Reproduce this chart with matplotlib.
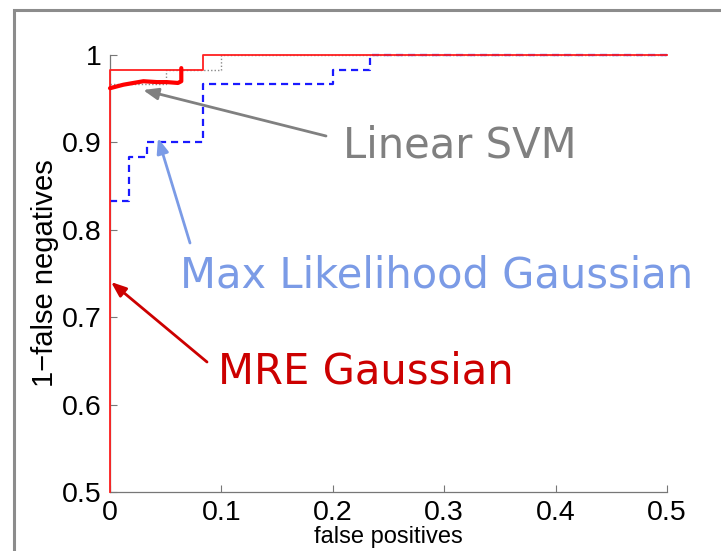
import matplotlib
matplotlib.use("Agg")
import matplotlib.pyplot as plt
from matplotlib.lines import Line2D

# ROC curves (false positive rate vs. 1 - false negative rate)
mre_fp = [0, 0, 0.0833, 0.0833, 0.5]
mre_tp = [0.5, 0.9833, 0.9833, 1.0, 1.0]

ml_fp = [0, 0.0167, 0.0167, 0.0333, 0.0333, 0.0833, 0.0833, 0.2, 0.2, 0.2333, 0.2333, 0.5]
ml_tp = [0.8333, 0.8333, 0.8833, 0.8833, 0.9, 0.9, 0.9667, 0.9667, 0.9833, 0.9833, 1.0, 1.0]

svm_fp = [0, 0.05, 0.05, 0.1, 0.1, 0.5]
svm_tp = [0.9667, 0.9667, 0.9833, 0.9833, 1.0, 1.0]

# hand-drawn highlight of the MRE curve near the origin
mark_fp = [0, 0.012, 0.03, 0.042, 0.051, 0.061, 0.064, 0.064]
mark_tp = [0.962, 0.966, 0.970, 0.969, 0.969, 0.968, 0.970, 0.985]

x_ticks = [0, 0.1, 0.2, 0.3, 0.4, 0.5]
x_tick_labels = ["0", "0.1", "0.2", "0.3", "0.4", "0.5"]
y_ticks = [0.5, 0.6, 0.7, 0.8, 0.9, 1.0]
y_tick_labels = ["0.5", "0.6", "0.7", "0.8", "0.9", "1"]

W, H = 721, 551
fig = plt.figure(figsize=(W / 100, H / 100), dpi=100)
fig.patch.set_facecolor("white")

ax_left, ax_right, ax_top, ax_bottom = 110, 667, 55, 492
ax = fig.add_axes([ax_left / W, 1 - ax_bottom / H,
                   (ax_right - ax_left) / W, (ax_bottom - ax_top) / H])

ax.plot(svm_fp, svm_tp, color="#8a8a8a", lw=1.0, ls=(0, (1, 1.5)), zorder=2, clip_on=False)
ax.plot(ml_fp, ml_tp, color="#1a1aff", lw=1.6, ls=(0, (3.2, 2.2)), zorder=3, clip_on=False)
ax.plot(mre_fp, mre_tp, color="#ff2020", lw=1.3, zorder=4, clip_on=False)
ax.plot(mark_fp, mark_tp, color="#ff0000", lw=3.0, zorder=5,
        solid_capstyle="round", solid_joinstyle="round", clip_on=False)

ax.set_xlim(0, 0.5)
ax.set_ylim(0.5, 1.0)
ax.set_xticks(x_ticks)
ax.set_xticklabels(x_tick_labels)
ax.set_yticks(y_ticks)
ax.set_yticklabels(y_tick_labels)

for lab in ax.get_xticklabels() + ax.get_yticklabels():
    lab.set_fontfamily("Liberation Sans")
    lab.set_fontsize(20.5)
ax.tick_params(direction="in", length=5, width=0.8, color="#777777",
               labelcolor="black", pad=6)
ax.tick_params(axis="x", pad=6)

for side in ("top", "right"):
    ax.spines[side].set_visible(False)
for side in ("left", "bottom"):
    ax.spines[side].set_color("#777777")
    ax.spines[side].set_linewidth(0.9)

ax.set_ylabel("1\u2212false negatives",
              fontdict={"family": "Liberation Sans", "size": 21}, labelpad=2)
ax.set_xlabel("false positives",
              fontdict={"family": "Liberation Sans", "size": 17}, labelpad=0)


def px_to_data(px, py):
    return ((px - ax_left) / (ax_right - ax_left) * 0.5,
            0.5 + (ax_bottom - py) / (ax_bottom - ax_top) * 0.5)


note_font = dict(family="DejaVu Sans", size=30)

notes = [
    ("Linear SVM", "#808080", (343, 157), (143, 90), (326, 136)),
    ("Max Likelihood Gaussian", "#7b9be6", (180, 288), (158, 138), (190, 243)),
    ("MRE Gaussian", "#cc0000", (218, 383), (111, 282), (207, 362)),
]
for text, color, text_px, tip_px, tail_px in notes:
    tx, ty = px_to_data(*text_px)
    ax.text(tx, ty, text, color=color, ha="left", va="baseline",
            fontdict=note_font, zorder=6, clip_on=False)
    ax.annotate("", xy=px_to_data(*tip_px), xytext=px_to_data(*tail_px),
                xycoords="data", textcoords="data", annotation_clip=False,
                arrowprops=dict(arrowstyle="-|>,head_length=0.9,head_width=0.35",
                                color=color, lw=2.0, shrinkA=0, shrinkB=0),
                zorder=6)

# outer frame of the panel
fig.add_artist(Line2D([14 / W, 14 / W, 1.0], [0.0, 1 - 9.5 / H, 1 - 9.5 / H],
                      transform=fig.transFigure, color="#8c8c8c", lw=2.2,
                      solid_joinstyle="miter"))

fig.savefig("out.png", dpi=100)
